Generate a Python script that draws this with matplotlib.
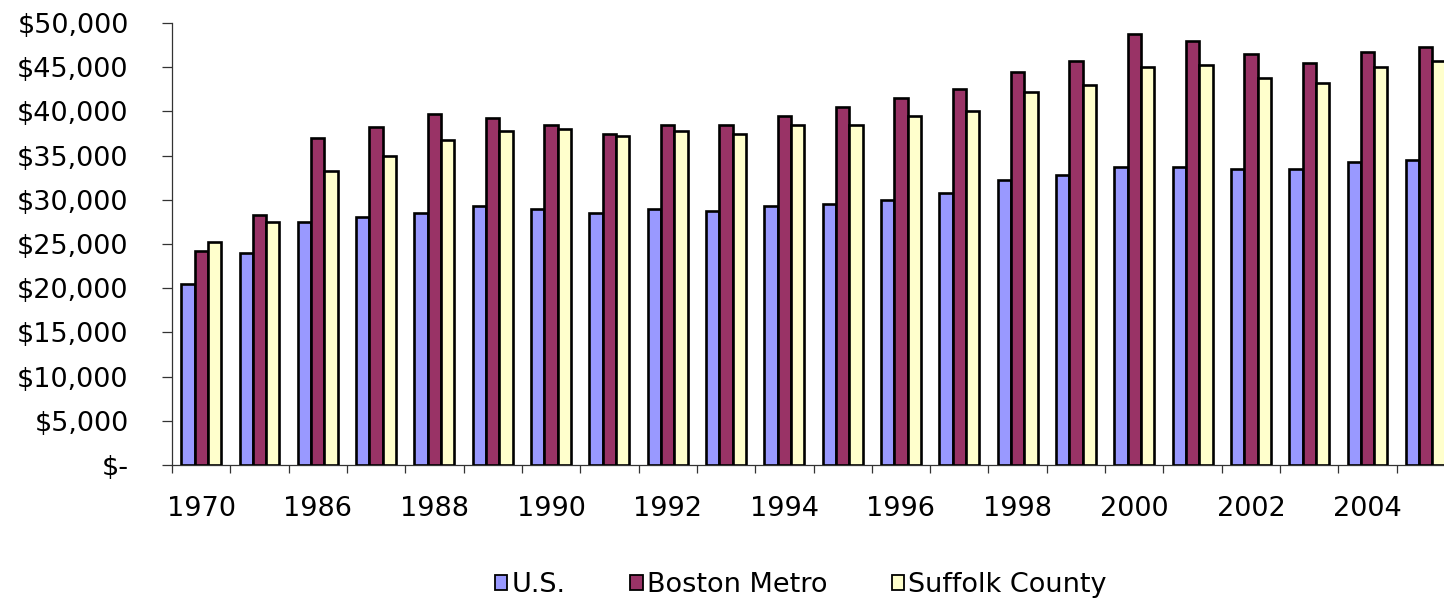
import matplotlib
matplotlib.use("Agg")
import matplotlib.pyplot as plt
import numpy as np
from matplotlib.ticker import FixedLocator, FuncFormatter

years = ["1970", "1980", "1986", "1987", "1988", "1989", "1990", "1991", "1992",
         "1993", "1994", "1995", "1996", "1997", "1998", "1999", "2000", "2001",
         "2002", "2003", "2004", "2005"]
us = [20500, 24000, 27500, 28000, 28500, 29250, 29000, 28500, 29000,
      28750, 29250, 29500, 30000, 30750, 32250, 32750, 33750, 33750,
      33500, 33500, 34250, 34500]
boston = [24250, 28250, 37000, 38250, 39750, 39250, 38500, 37500, 38500,
          38500, 39500, 40500, 41500, 42500, 44500, 45750, 48750, 48000,
          46500, 45500, 46750, 47250]
suffolk = [25250, 27500, 33250, 35000, 36750, 37750, 38000, 37250, 37750,
           37500, 38500, 38500, 39500, 40000, 42250, 43000, 45000, 45250,
           43750, 43250, 45000, 45750]
series_names = ["U.S.", "Boston Metro", "Suffolk County"]
colors = ["#9999FF", "#993366", "#FFFFCC"]

plt.rcParams['font.family'] = ['DejaVu Sans']
FS = 19.5

fig = plt.figure(figsize=(14.44, 6.03), dpi=100)
W, H = 1444, 603
left, right, bottom, top = 172, 1455, 465, 23
ax = fig.add_axes([left / W, 1 - bottom / H, (right - left) / W, (bottom - top) / H])

x = np.arange(len(years))
bw = 0.228
for k, (vals, name, c) in enumerate(zip([us, boston, suffolk], series_names, colors)):
    ax.bar(x + (k - 1) * bw, vals, width=bw, color=c, edgecolor="black",
           linewidth=1.9, label=name, zorder=3)

ax.set_xlim(-0.5, len(years) - 0.5)
ax.set_ylim(0, 50000)

for s in ["top", "right"]:
    ax.spines[s].set_visible(False)
for s in ["left", "bottom"]:
    ax.spines[s].set_color("#333333")
    ax.spines[s].set_linewidth(0.9)

ax.set_yticks(np.arange(0, 50001, 5000))
ax.yaxis.set_major_formatter(FuncFormatter(lambda v, p: "$-" if v == 0 else f"${int(v):,}"))
ax.tick_params(axis="y", direction="out", length=7.2, width=0.9, color="#333333",
               pad=24, labelsize=FS)

ax.set_xticks(x[::2])
ax.set_xticklabels(years[::2])
ax.xaxis.set_minor_locator(FixedLocator(np.arange(-0.5, len(years), 1.0)))
ax.tick_params(axis="x", which="major", length=0, pad=22, labelsize=FS)
ax.tick_params(axis="x", which="minor", direction="out", length=5.8, width=0.9,
               color="#333333")

leg = fig.legend(loc="center", bbox_to_anchor=(801 / W, 1 - 585 / H), ncol=3,
                 frameon=False, fontsize=FS, handlelength=0.45, handleheight=0.45,
                 handletextpad=0.15, columnspacing=2.4, borderpad=0, borderaxespad=0)
for h in leg.legend_handles:
    h.set_linewidth(1.3)

fig.savefig("out.png", dpi=100)
